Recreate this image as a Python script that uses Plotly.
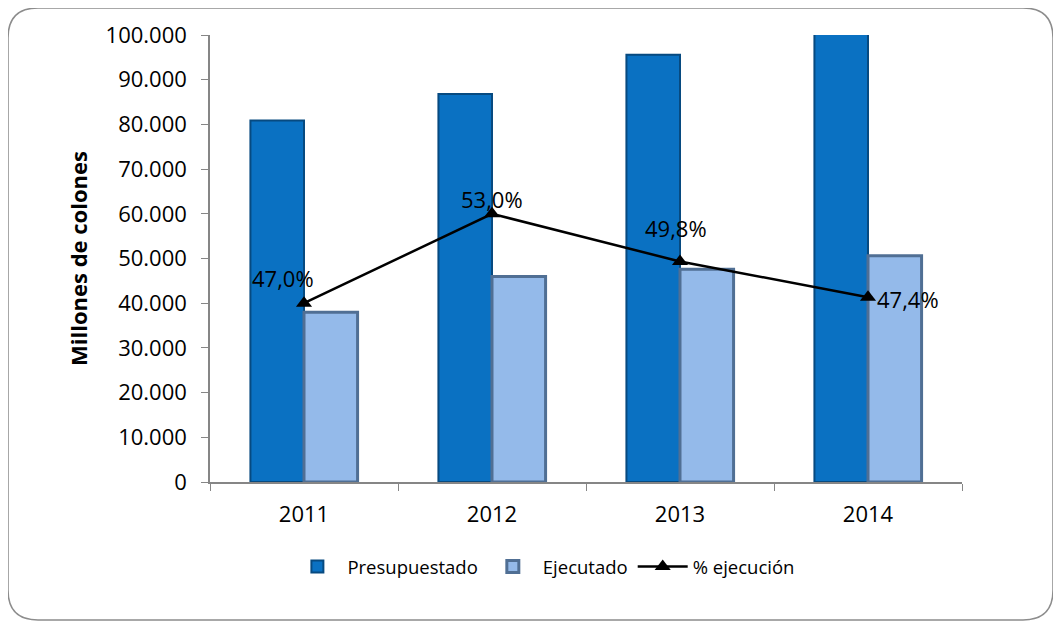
import plotly.graph_objects as go

years = ["2011", "2012", "2013", "2014"]
presupuestado = [80900, 86800, 95600, 106750]
ejecutado = [38000, 46000, 47600, 50600]
pct_ejecucion = [47.0, 53.0, 49.8, 47.4]
# label offsets (px) for the % labels
lbl_dx = [-21, 0, -4, 40]
lbl_dy = [25, 15, 33, -2]

FONT = "Open Sans"

fig = go.Figure()
fig.add_trace(go.Bar(
    x=years, y=presupuestado, name="Presupuestado",
    marker=dict(color="#0A71C2", line=dict(color="#074A80", width=2)),
))
fig.add_trace(go.Bar(
    x=years, y=ejecutado, name="Ejecutado",
    marker=dict(color="#94BAEA", line=dict(color="#506F94", width=3)),
))
fig.add_trace(go.Scatter(
    x=years, y=pct_ejecucion, name="% ejecución", yaxis="y2",
    mode="lines+markers",
    line=dict(color="black", width=2.5),
    marker=dict(symbol="triangle-up", size=14, color="black"),
    cliponaxis=False,
))

for i, (v, dx, dy) in enumerate(zip(pct_ejecucion, lbl_dx, lbl_dy)):
    fig.add_annotation(
        x=i, y=v, xref="x", yref="y2", text=f"{v:.1f}%".replace(".", ","),
        showarrow=False, xshift=dx, yshift=dy,
        font=dict(family=FONT, size=22, color="black"),
    )

# rounded chart border (paper coordinates)
x0, x1, y0, y1 = -0.2686, 1.121, -0.3087, 1.0604
rx, ry = 30 / 752, 30 / 447
path = (f"M {x0+rx},{y1} L {x1-rx},{y1} Q {x1},{y1} {x1},{y1-ry} "
        f"L {x1},{y0+ry} Q {x1},{y0} {x1-rx},{y0} "
        f"L {x0+rx},{y0} Q {x0},{y0} {x0},{y0+ry} "
        f"L {x0},{y1-ry} Q {x0},{y1} {x0+rx},{y1} Z")
fig.add_shape(type="path", path=path, xref="paper", yref="paper",
              line=dict(color="#8C8C8C", width=1.5), layer="below")

fig.update_layout(
    width=1053, height=619,
    margin=dict(l=202, r=99, t=27, b=145),
    paper_bgcolor="white", plot_bgcolor="white",
    separators=",.",
    barmode="group", bargap=0.43, bargroupgap=0,
    font=dict(family=FONT, color="black"),
    xaxis=dict(
        type="category", categoryorder="array", categoryarray=years,
        range=[-0.5, len(years) - 0.5],
        showline=True, linecolor="#868686", linewidth=1.5,
        ticks="outside", tickson="boundaries", ticklen=7, tickcolor="#868686",
        tickfont=dict(family=FONT, size=22), ticklabelstandoff=12,
        showgrid=False,
    ),
    yaxis=dict(
        range=[0, 100000], dtick=10000, tickformat=",",
        showline=True, linecolor="#868686", linewidth=1.5,
        ticks="outside", ticklen=7, tickcolor="#868686",
        tickfont=dict(family=FONT, size=22), ticklabelstandoff=10,
        showgrid=False, zeroline=False,
        title=dict(text="<b>Millones de colones</b>", font=dict(family=FONT, size=22), standoff=12),
    ),
    yaxis2=dict(range=[35, 65], overlaying="y", side="right", visible=False),
    legend=dict(orientation="h", x=0.444, xanchor="center", y=-0.19, yanchor="middle",
                font=dict(family=FONT, size=18.5), itemwidth=50, tracegroupgap=0),
    showlegend=True,
)

fig.write_html("out.html")
